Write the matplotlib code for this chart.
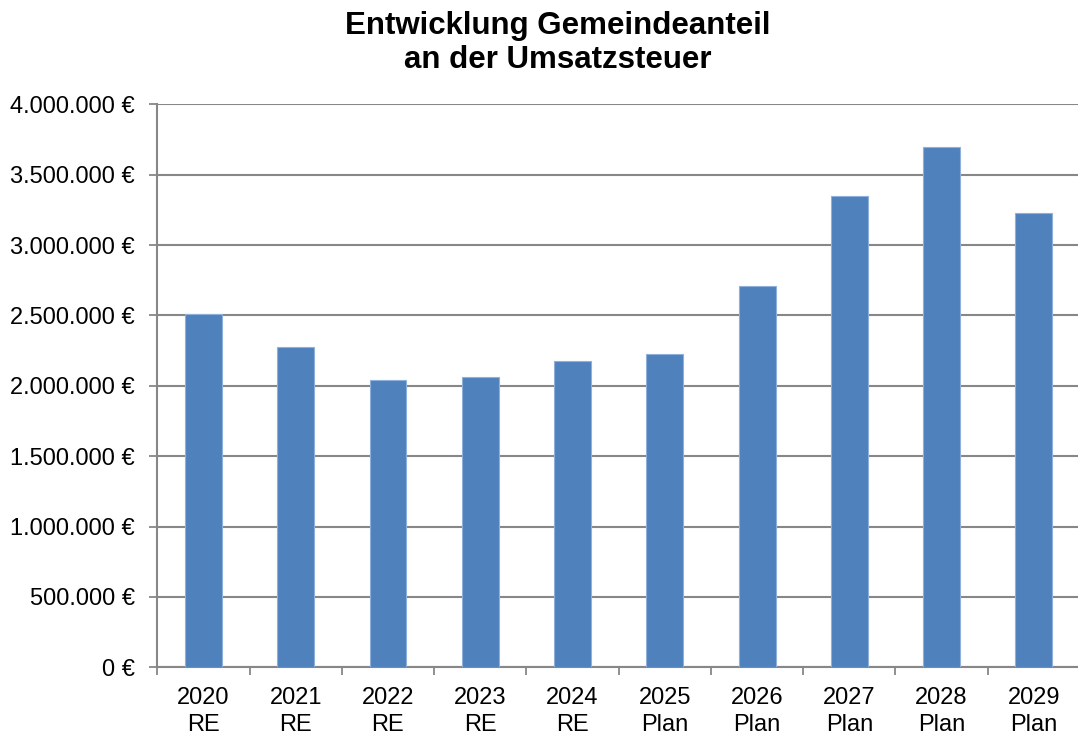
import matplotlib
matplotlib.use("Agg")
import matplotlib.pyplot as plt
from matplotlib.ticker import FuncFormatter

years = ["2020", "2021", "2022", "2023", "2024", "2025", "2026", "2027", "2028", "2029"]
kinds = ["RE", "RE", "RE", "RE", "RE", "Plan", "Plan", "Plan", "Plan", "Plan"]
values = [2508000, 2276000, 2039000, 2060000, 2174000, 2228000, 2711000, 3346000, 3694000, 3225000]
title = "Entwicklung Gemeindeanteil\nan der Umsatzsteuer"

plt.rcParams['font.family'] = ['Liberation Sans', 'DejaVu Sans']

fig = plt.figure(figsize=(10.78, 7.35), dpi=100)
ax = fig.add_axes([157.3 / 1078, 1 - 667.3 / 735, (1080 - 157.3) / 1078, (667.3 - 104.3) / 735])

x = list(range(len(years)))
ax.bar(x, values, width=0.4, color="#4F81BD", edgecolor="#8FB0DA", linewidth=0.8, zorder=3)

ax.set_xlim(-0.5, len(years) - 0.5)
ax.set_ylim(0, 4000000)
ax.set_yticks(range(0, 4000001, 500000))

def fmt(v, pos):
    s = f"{int(round(v)):,}".replace(",", ".")
    return f"{s} €"

ax.yaxis.set_major_formatter(FuncFormatter(fmt))
ax.set_xticks(x)
ax.set_xticklabels([f"{y}\n{k}" for y, k in zip(years, kinds)])
ax.set_xticks([i - 0.5 for i in range(len(years) + 1)], minor=True)
ax.tick_params(axis='x', which='major', length=0, pad=14, labelsize=17)
ax.tick_params(axis='x', which='minor', length=6, width=1.3, color="#878787")
ax.tick_params(axis='y', which='major', length=6, width=1.3, color="#878787", pad=10, labelsize=17)

for lab in ax.get_xticklabels():
    lab.set_linespacing(1.3)

ax.grid(axis='y', color="#878787", linewidth=1.5, zorder=0)
for side in ["top", "right"]:
    ax.spines[side].set_visible(False)
for side in ["left", "bottom"]:
    ax.spines[side].set_color("#878787")
    ax.spines[side].set_linewidth(1.5)

fig.text(557.5 / 1078, 1 - 43 / 735, title, ha='center', va='center',
         fontsize=22.5, fontweight='bold', linespacing=1.15)

fig.savefig("out.png", dpi=100)
